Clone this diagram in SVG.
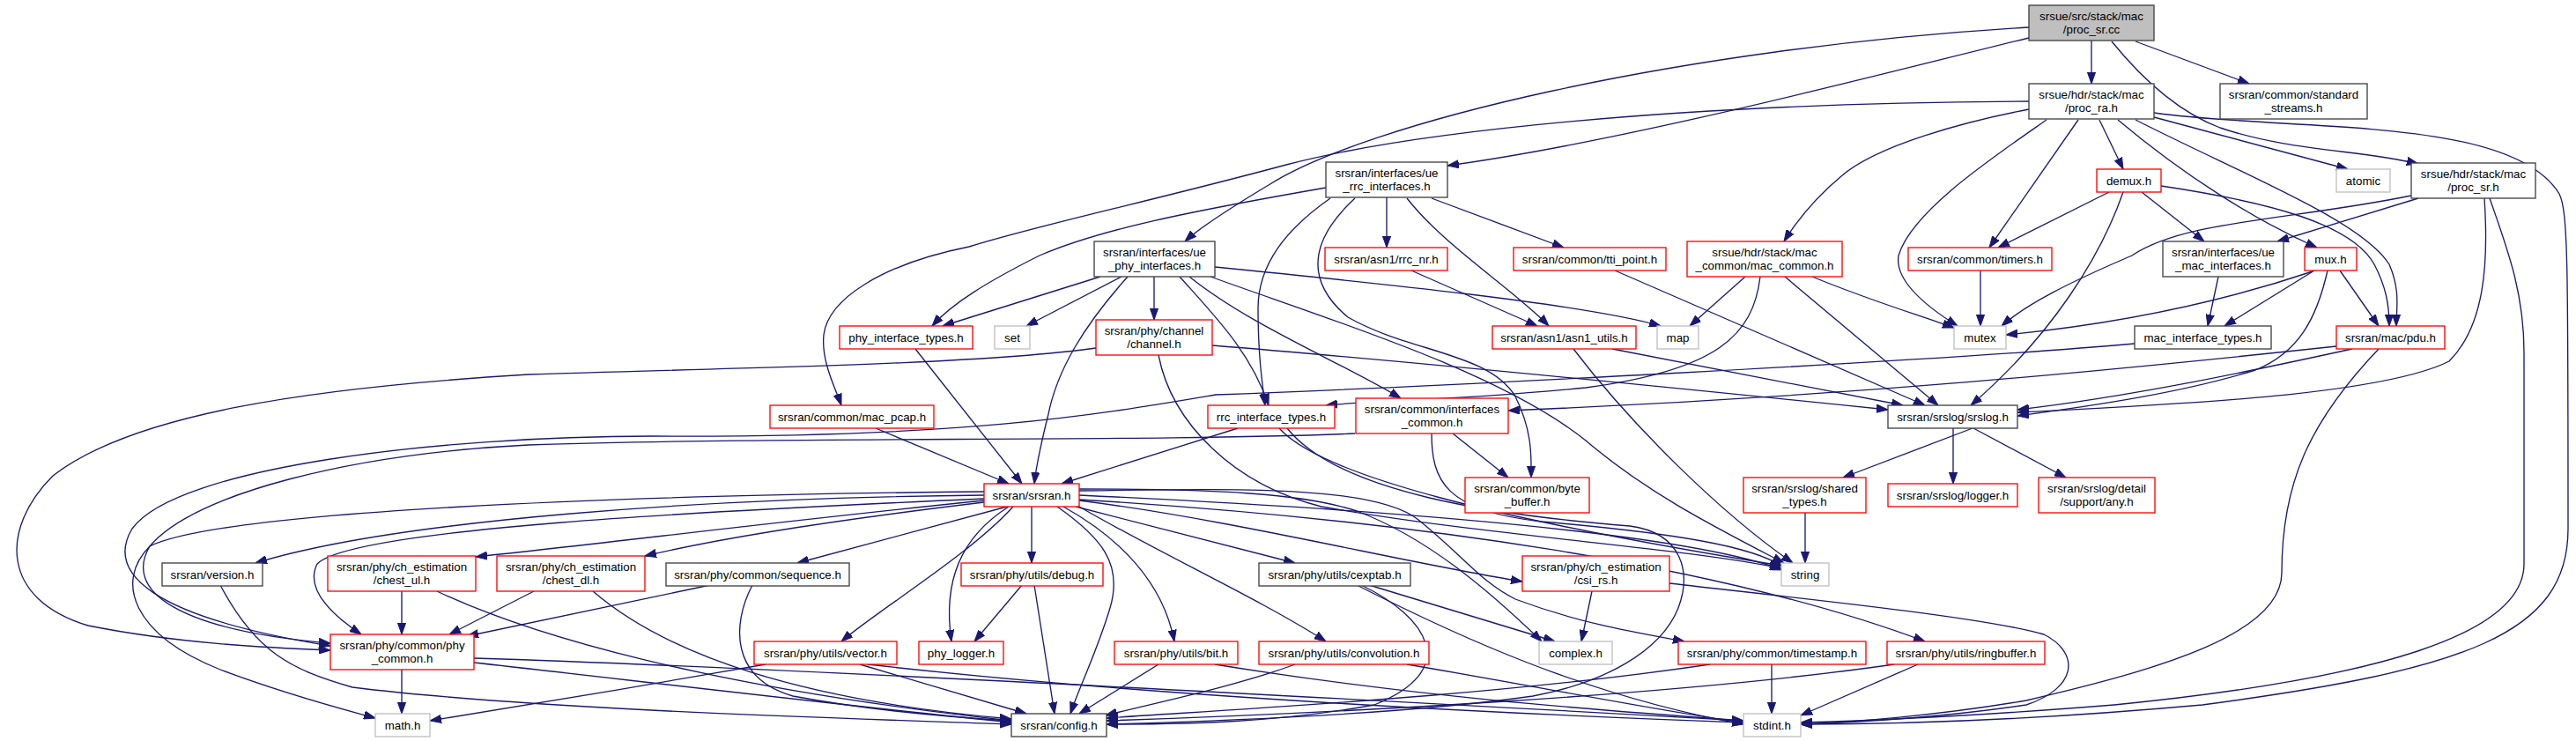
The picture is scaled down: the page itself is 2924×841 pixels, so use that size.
<svg xmlns="http://www.w3.org/2000/svg" width="2924" height="841" viewBox="0 0 2924 841">
<style>
text{font-family:"Liberation Sans",Arial,sans-serif;font-size:13.33px;text-anchor:middle;fill:#000}
.n rect{fill:#fff;stroke:#404040;stroke-width:1.33}
.r rect{fill:#fff;stroke:#ff0000;stroke-width:1.33}
.g rect{fill:#fff;stroke:#bfbfbf;stroke-width:1.33}
#edges path{fill:none;stroke:#191970;stroke-width:1.33;marker-end:url(#ah)}
</style>
<defs>
<marker id="ah" markerUnits="userSpaceOnUse" markerWidth="13" markerHeight="10" viewBox="0 0 13 10" refX="13" refY="5" orient="auto">
<path d="M0,0.4 L13,5 L0,9.6 z" fill="#191970" stroke="#191970" stroke-width="1"/>
</marker>
</defs>
<rect width="2924" height="841" fill="#fff"/>
<g id="edges">
<path d="M2374,46 L2374,95"/>
<path d="M2424,47 L2553,95"/>
<path d="M2397,47 C2440,100 2480,130 2520,145 C2600,172 2680,170 2745,186"/>
<path d="M2303,43 C2150,80 1850,160 1643,188"/>
<path d="M2303,31 C1900,55 1550,140 1440,210 C1390,240 1360,260 1345,274"/>
<path d="M2303,115 C1900,117 1600,150 1460,187 C1300,230 1180,255 1100,280 C1000,300 940,340 935,380 C932,410 948,440 955,460"/>
<path d="M2303,124 C2230,138 2130,165 2090,200 C2060,225 2040,250 2025,274"/>
<path d="M2323,136 C2260,180 2170,240 2155,290 C2150,320 2190,350 2222,370"/>
<path d="M2359,136 L2258,281"/>
<path d="M2383,136 L2410,192"/>
<path d="M2404,136 C2480,200 2560,250 2630,281"/>
<path d="M2424,136 C2550,200 2680,250 2712,300 C2725,330 2720,350 2720,370"/>
<path d="M2445,133 L2665,192"/>
<path d="M2445,128 C2600,150 2850,130 2905,220 C2915,240 2915,300 2915,600 C2915,720 2800,760 2500,800 C2300,818 2150,822 2044,822"/>
<path d="M2745,225 L2585,274"/>
<path d="M2737,222 C2600,250 2480,250 2420,290 C2350,320 2300,345 2272,370"/>
<path d="M2820,225 C2825,300 2820,370 2780,410 C2700,450 2450,460 2290,468"/>
<path d="M2826,225 C2845,280 2865,330 2865,400 L2865,640 C2865,720 2700,770 2400,800 C2250,812 2120,818 2044,820"/>
<path d="M2394,218 L2268,281"/>
<path d="M2410,218 C2385,290 2330,380 2237,460"/>
<path d="M2431,218 L2502,274"/>
<path d="M2453,211 C2580,230 2670,255 2695,300 C2708,325 2712,345 2712,370"/>
<path d="M2518,314 L2506,370"/>
<path d="M2625,308 C2500,350 2380,370 2277,380"/>
<path d="M2627,307 L2525,370"/>
<path d="M2642,307 C2630,360 2610,400 2560,420 C2480,445 2380,460 2290,472"/>
<path d="M2656,307 L2700,370"/>
<path d="M2248,307 L2248,370"/>
<path d="M1981,314 L1918,370"/>
<path d="M2026,314 L2200,460"/>
<path d="M2057,314 C2120,340 2170,355 2218,372"/>
<path d="M1998,314 C1990,380 1950,420 1800,440 C1650,455 1550,455 1505,460"/>
<path d="M2423,390 C2200,410 1600,440 1380,448 C1250,470 1100,497 740,495 C500,495 200,530 150,600 C120,650 170,700 375,733"/>
<path d="M2652,393 C2400,420 2100,450 1712,466"/>
<path d="M2670,396 C2560,420 2420,450 2290,465"/>
<path d="M2700,396 C2620,480 2590,550 2590,650 C2590,720 2450,760 2300,795 C2200,812 2100,820 2044,822"/>
<path d="M1574,224 L1574,281"/>
<path d="M1625,225 L1775,281"/>
<path d="M1597,225 C1640,280 1720,330 1758,370"/>
<path d="M1538,225 C1500,260 1470,310 1530,360 C1600,400 1690,400 1720,450 C1740,490 1738,520 1738,542"/>
<path d="M1510,225 C1460,260 1428,300 1428,350 C1428,400 1432,430 1436,460"/>
<path d="M1505,213 C1350,240 1250,260 1180,290 C1120,320 1080,345 1058,370"/>
<path d="M1249,314 L1070,370"/>
<path d="M1273,314 L1165,370"/>
<path d="M1310,314 L1310,363"/>
<path d="M1280,314 C1230,370 1200,420 1190,470 C1180,510 1176,530 1174,549"/>
<path d="M1339,314 C1380,360 1420,400 1440,460"/>
<path d="M1350,314 C1420,370 1520,410 1590,452"/>
<path d="M1379,303 C1550,320 1800,345 1885,370"/>
<path d="M1374,314 C1500,360 1700,420 1800,500 C1870,560 1950,600 2025,639"/>
<path d="M1602,307 L1745,370"/>
<path d="M1833,307 L2185,460"/>
<path d="M1830,396 L2160,460"/>
<path d="M1786,396 C1850,480 1950,580 2035,639"/>
<path d="M1244,395 C1100,415 800,418 600,425 C350,440 150,470 60,540 C0,600 0,680 100,710 C200,730 300,735 375,738"/>
<path d="M1376,392 C1600,410 1900,440 2143,465"/>
<path d="M1315,403 C1330,480 1400,550 1500,575 C1700,610 1900,620 2022,645"/>
<path d="M1039,396 L1160,549"/>
<path d="M994,486 L1145,549"/>
<path d="M1405,486 L1205,549"/>
<path d="M1452,486 C1500,540 1700,590 2022,642"/>
<path d="M1461,486 C1520,560 1700,585 1850,597 C1910,605 1920,650 1905,690 C1885,740 1820,775 1740,790 C1600,810 1400,818 1256,822"/>
<path d="M1649,492 L1712,542"/>
<path d="M1538,492 C1300,502 900,495 600,505 C400,515 220,560 170,620 C140,670 200,715 375,730"/>
<path d="M1625,492 C1625,545 1640,580 1750,592 C1900,605 1990,620 2023,643"/>
<path d="M2239,486 L2092,542"/>
<path d="M2217,486 L2217,549"/>
<path d="M2240,486 L2345,542"/>
<path d="M2049,582 L2049,639"/>
<path d="M1143,575 L905,639"/>
<path d="M1150,575 C1100,630 1000,690 955,728"/>
<path d="M1145,575 C1090,610 1070,660 1080,728"/>
<path d="M1171,575 L1171,639"/>
<path d="M1200,575 C1250,610 1275,640 1260,690 C1245,740 1225,780 1215,810"/>
<path d="M1207,575 C1270,610 1320,660 1333,728"/>
<path d="M1221,575 L1470,639"/>
<path d="M1225,575 C1320,630 1430,680 1505,728"/>
<path d="M1225,568 C1400,590 1600,640 1728,660"/>
<path d="M1225,555 C1380,555 1480,560 1540,580 C1620,610 1690,670 1750,728"/>
<path d="M1225,557 C1400,555 1560,550 1610,590 C1660,630 1680,660 1720,680 C1800,710 1870,720 1912,728"/>
<path d="M1225,567 C1600,590 1950,640 2185,728"/>
<path d="M1225,562 C1500,575 1900,600 2024,647"/>
<path d="M1117,562 C800,565 450,590 290,639"/>
<path d="M1117,558 C700,562 250,580 170,620 C130,660 150,720 250,760 C330,790 390,805 426,815"/>
<path d="M1117,566 C800,580 400,600 360,640 C345,670 380,700 410,720"/>
<path d="M1117,568 C900,590 700,615 540,632"/>
<path d="M1117,570 C950,590 820,610 732,631"/>
<path d="M976,754 L1165,810"/>
<path d="M869,754 C750,775 600,800 488,818"/>
<path d="M985,754 C1300,790 1700,810 1979,820"/>
<path d="M1160,664 L1106,728"/>
<path d="M1174,664 L1197,810"/>
<path d="M1315,754 L1225,810"/>
<path d="M1379,754 C1600,790 1800,805 1979,818"/>
<path d="M1470,754 C1400,780 1300,800 1255,812"/>
<path d="M1597,754 C1750,780 1900,810 1979,820"/>
<path d="M1554,664 L1765,728"/>
<path d="M1545,664 C1620,700 1660,760 1560,800 C1450,820 1350,822 1256,822"/>
<path d="M1540,664 C1650,720 1800,790 1979,822"/>
<path d="M1807,671 L1795,728"/>
<path d="M1895,662 C2050,680 2250,700 2320,720 C2360,740 2360,780 2300,800 C2200,815 2100,820 2044,822"/>
<path d="M2011,754 L2011,810"/>
<path d="M1941,754 C1700,790 1400,805 1256,815"/>
<path d="M2177,754 L2044,812"/>
<path d="M2150,754 C1900,790 1500,810 1256,818"/>
<path d="M456,760 L456,810"/>
<path d="M538,752 C700,770 950,800 1148,820"/>
<path d="M538,747 C800,755 1300,780 1979,818"/>
<path d="M456,671 L456,720"/>
<path d="M496,671 C600,720 800,780 1148,818"/>
<path d="M606,671 L510,720"/>
<path d="M673,671 C730,720 850,790 1148,816"/>
<path d="M806,664 L530,722"/>
<path d="M854,664 C830,710 830,770 900,790 C980,805 1080,814 1148,818"/>
<path d="M250,664 C290,740 330,760 400,780 C600,805 950,815 1148,822"/>
</g>
<g id="n1" class="n"><rect x="2303" y="6" width="142" height="40" style="fill:#bfbfbf"/><text x="2374" y="22.5">srsue/src/stack/mac</text><text x="2374" y="37.5">/proc_sr.cc</text></g>
<g id="n2" class="n"><rect x="2303" y="95" width="142" height="40"/><text x="2374" y="111.5">srsue/hdr/stack/mac</text><text x="2374" y="126.5">/proc_ra.h</text></g>
<g id="n3" class="n"><rect x="2520" y="95" width="167" height="40"/><text x="2603.5" y="111.5">srsran/common/standard</text><text x="2603.5" y="126.5">_streams.h</text></g>
<g id="n4" class="n"><rect x="1505" y="184" width="138" height="40"/><text x="1574" y="200.5">srsran/interfaces/ue</text><text x="1574" y="215.5">_rrc_interfaces.h</text></g>
<g id="n5" class="r"><rect x="2380" y="192" width="73" height="26"/><text x="2416.5" y="209.5">demux.h</text></g>
<g id="n6" class="g"><rect x="2652" y="192" width="61" height="26"/><text x="2682.5" y="209.5">atomic</text></g>
<g id="n7" class="n"><rect x="2737" y="185" width="141" height="40"/><text x="2807.5" y="201.5">srsue/hdr/stack/mac</text><text x="2807.5" y="216.5">/proc_sr.h</text></g>
<g id="n8" class="n"><rect x="1242" y="274" width="137" height="40"/><text x="1310.5" y="290.5">srsran/interfaces/ue</text><text x="1310.5" y="305.5">_phy_interfaces.h</text></g>
<g id="n9" class="r"><rect x="1504" y="281" width="139" height="26"/><text x="1573.5" y="298.5">srsran/asn1/rrc_nr.h</text></g>
<g id="n10" class="r"><rect x="1718" y="281" width="173" height="26"/><text x="1804.5" y="298.5">srsran/common/tti_point.h</text></g>
<g id="n11" class="r"><rect x="1915" y="274" width="176" height="40"/><text x="2003" y="290.5">srsue/hdr/stack/mac</text><text x="2003" y="305.5">_common/mac_common.h</text></g>
<g id="n12" class="r"><rect x="2166" y="281" width="163" height="26"/><text x="2247.5" y="298.5">srsran/common/timers.h</text></g>
<g id="n13" class="n"><rect x="2455" y="274" width="137" height="40"/><text x="2523.5" y="290.5">srsran/interfaces/ue</text><text x="2523.5" y="305.5">_mac_interfaces.h</text></g>
<g id="n14" class="r"><rect x="2616" y="281" width="59" height="26"/><text x="2645.5" y="298.5">mux.h</text></g>
<g id="n15" class="r"><rect x="953" y="370" width="151" height="26"/><text x="1028.5" y="387.5">phy_interface_types.h</text></g>
<g id="n16" class="g"><rect x="1129" y="370" width="40" height="26"/><text x="1149" y="387.5">set</text></g>
<g id="n17" class="r"><rect x="1244" y="363" width="132" height="40"/><text x="1310" y="379.5">srsran/phy/channel</text><text x="1310" y="394.5">/channel.h</text></g>
<g id="n18" class="r"><rect x="1694" y="370" width="163" height="26"/><text x="1775.5" y="387.5">srsran/asn1/asn1_utils.h</text></g>
<g id="n19" class="g"><rect x="1881" y="370" width="47" height="26"/><text x="1904.5" y="387.5">map</text></g>
<g id="n20" class="g"><rect x="2218" y="370" width="59" height="26"/><text x="2247.5" y="387.5">mutex</text></g>
<g id="n21" class="n"><rect x="2423" y="370" width="155" height="26"/><text x="2500.5" y="387.5">mac_interface_types.h</text></g>
<g id="n22" class="r"><rect x="2652" y="370" width="123" height="26"/><text x="2713.5" y="387.5">srsran/mac/pdu.h</text></g>
<g id="n23" class="r"><rect x="874" y="460" width="186" height="26"/><text x="967" y="477.5">srsran/common/mac_pcap.h</text></g>
<g id="n24" class="r"><rect x="1371" y="460" width="144" height="26"/><text x="1443" y="477.5">rrc_interface_types.h</text></g>
<g id="n25" class="r"><rect x="1539" y="452" width="173" height="40"/><text x="1625.5" y="468.5">srsran/common/interfaces</text><text x="1625.5" y="483.5">_common.h</text></g>
<g id="n26" class="n"><rect x="2143" y="460" width="147" height="26"/><text x="2216.5" y="477.5">srsran/srslog/srslog.h</text></g>
<g id="n27" class="r"><rect x="1117" y="549" width="108" height="26"/><text x="1171" y="566.5">srsran/srsran.h</text></g>
<g id="n28" class="r"><rect x="1663" y="542" width="141" height="40"/><text x="1733.5" y="558.5">srsran/common/byte</text><text x="1733.5" y="573.5">_buffer.h</text></g>
<g id="n29" class="r"><rect x="1979" y="542" width="139" height="40"/><text x="2048.5" y="558.5">srsran/srslog/shared</text><text x="2048.5" y="573.5">_types.h</text></g>
<g id="n30" class="r"><rect x="2143" y="549" width="147" height="26"/><text x="2216.5" y="566.5">srsran/srslog/logger.h</text></g>
<g id="n31" class="r"><rect x="2314" y="542" width="132" height="40"/><text x="2380" y="558.5">srsran/srslog/detail</text><text x="2380" y="573.5">/support/any.h</text></g>
<g id="n32" class="n"><rect x="184" y="639" width="114" height="26"/><text x="241" y="656.5">srsran/version.h</text></g>
<g id="n33" class="r"><rect x="372" y="631" width="168" height="40"/><text x="456" y="647.5">srsran/phy/ch_estimation</text><text x="456" y="662.5">/chest_ul.h</text></g>
<g id="n34" class="r"><rect x="564" y="631" width="168" height="40"/><text x="648" y="647.5">srsran/phy/ch_estimation</text><text x="648" y="662.5">/chest_dl.h</text></g>
<g id="n35" class="n"><rect x="756" y="639" width="208" height="26"/><text x="860" y="656.5">srsran/phy/common/sequence.h</text></g>
<g id="n36" class="r"><rect x="1091" y="639" width="161" height="26"/><text x="1171.5" y="656.5">srsran/phy/utils/debug.h</text></g>
<g id="n37" class="n"><rect x="1429" y="639" width="172" height="26"/><text x="1515" y="656.5">srsran/phy/utils/cexptab.h</text></g>
<g id="n38" class="r"><rect x="1728" y="631" width="167" height="40"/><text x="1811.5" y="647.5">srsran/phy/ch_estimation</text><text x="1811.5" y="662.5">/csi_rs.h</text></g>
<g id="n39" class="g"><rect x="2022" y="639" width="54" height="26"/><text x="2049" y="656.5">string</text></g>
<g id="n40" class="r"><rect x="375" y="720" width="163" height="40"/><text x="456.5" y="736.5">srsran/phy/common/phy</text><text x="456.5" y="751.5">_common.h</text></g>
<g id="n41" class="r"><rect x="856" y="728" width="162" height="26"/><text x="937" y="745.5">srsran/phy/utils/vector.h</text></g>
<g id="n42" class="r"><rect x="1043" y="728" width="96" height="26"/><text x="1091" y="745.5">phy_logger.h</text></g>
<g id="n43" class="r"><rect x="1265" y="728" width="140" height="26"/><text x="1335" y="745.5">srsran/phy/utils/bit.h</text></g>
<g id="n44" class="r"><rect x="1429" y="728" width="193" height="26"/><text x="1525.5" y="745.5">srsran/phy/utils/convolution.h</text></g>
<g id="n45" class="g"><rect x="1747" y="728" width="83" height="26"/><text x="1788.5" y="745.5">complex.h</text></g>
<g id="n46" class="r"><rect x="1905" y="728" width="213" height="26"/><text x="2011.5" y="745.5">srsran/phy/common/timestamp.h</text></g>
<g id="n47" class="r"><rect x="2142" y="728" width="179" height="26"/><text x="2231.5" y="745.5">srsran/phy/utils/ringbuffer.h</text></g>
<g id="n48" class="g"><rect x="426" y="810" width="62" height="26"/><text x="457" y="827.5">math.h</text></g>
<g id="n49" class="n"><rect x="1148" y="810" width="108" height="26"/><text x="1202" y="827.5">srsran/config.h</text></g>
<g id="n50" class="g"><rect x="1979" y="810" width="65" height="26"/><text x="2011.5" y="827.5">stdint.h</text></g>
</svg>
